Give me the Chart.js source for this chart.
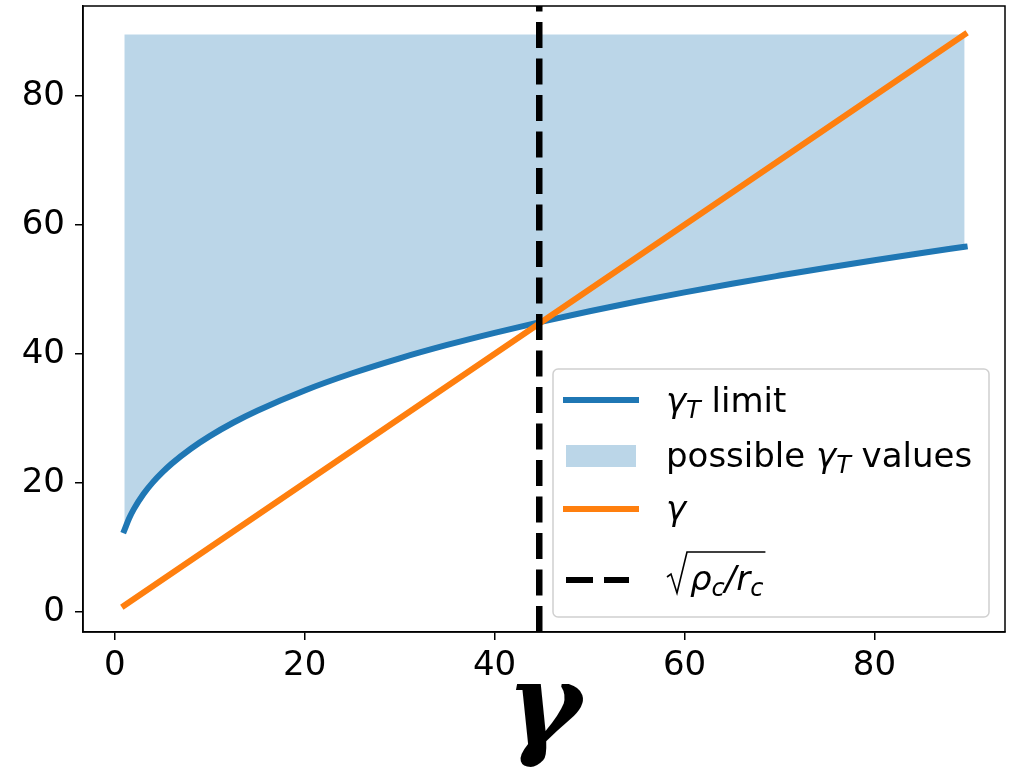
<!DOCTYPE html>
<html>
<head>
<meta charset="utf-8">
<script src="https://cdn.jsdelivr.net/npm/chart.js@4/dist/chart.umd.min.js"></script>
<style>
  body { margin: 0; background: #fff; }
  #wrap { width: 1010px; height: 768px; }
</style>
</head>
<body>
<div id="wrap"><canvas id="c" width="1010" height="768"></canvas></div>
<script>
// valores
const gammaX = [1, 1.5, 2, 3, 4, 5, 6, 8, 10, 12.5, 15, 20, 25, 30, 35, 40, 45, 50, 55, 60, 65, 70, 75, 80, 85, 89.5];
const gammaTLimit = [12.65, 14.48, 15.94, 18.24, 20.08, 21.63, 22.99, 25.3, 27.25, 29.36, 31.19, 34.33, 36.99, 39.31, 41.38, 43.26, 45.0, 46.6, 48.11, 49.52, 50.87, 52.13, 53.35, 54.51, 55.63, 56.59];
const gammaLineX = [1, 89.5];
const gammaLineY = [1, 89.5];
const fillTop = 89.5;            // borde superior de la zona sombreada
const criticalGamma = 44.7;      // sqrt(rho_c / r_c)
const xTicks = [0, 20, 40, 60, 80];
const yTicks = [0, 20, 40, 60, 80];
const xMin = -3.35, xMax = 93.75;
const yMin = -3.1, yMax = 93.9;

const BLUE = '#1f77b4';
const ORANGE = '#ff7f0e';
const FILL = 'rgba(31,119,180,0.3)';
const FONT = 'DejaVu Sans';
const FS = 34;

// leyenda estilo matplotlib, con texto matemático
function drawRuns(ctx, x, y, runs) {
  for (const r of runs) {
    ctx.font = r.font;
    ctx.fillText(r.t, x, y + (r.dy || 0));
    x += ctx.measureText(r.t).width + (r.after || 0);
  }
  return x;
}

const legendPlugin = {
  id: 'mplLegend',
  afterDraw(chart) {
    const ctx = chart.ctx;
    const a = chart.chartArea;
    const w = 436, h = 248;
    const left = a.right - 16 - w, top = a.bottom - 15 - h;
    ctx.save();
    ctx.beginPath();
    ctx.roundRect(left, top, w, h, 5);
    ctx.fillStyle = 'rgba(255,255,255,0.8)';
    ctx.fill();
    ctx.strokeStyle = '#d0d0d0';
    ctx.lineWidth = 1.5;
    ctx.stroke();

    const sx0 = left + 10, sx1 = left + 86;
    const tx = left + 113;
    const rows = [top + 31, top + 87, top + 140, top + 211];
    const reg = FS + 'px "' + FONT + '"';
    const it = 'italic ' + FS + 'px "' + FONT + '"';
    const sub = 'italic ' + Math.round(FS * 0.7) + 'px "' + FONT + '"';

    // muestras
    ctx.lineWidth = 6;
    ctx.lineCap = 'butt';
    ctx.strokeStyle = BLUE;
    ctx.beginPath(); ctx.moveTo(sx0, rows[0]); ctx.lineTo(sx1, rows[0]); ctx.stroke();
    ctx.fillStyle = FILL;
    ctx.fillRect(sx0 + 3, rows[1] - 11, sx1 - sx0 - 6, 22);
    ctx.strokeStyle = ORANGE;
    ctx.beginPath(); ctx.moveTo(sx0, rows[2]); ctx.lineTo(sx1, rows[2]); ctx.stroke();
    ctx.strokeStyle = '#000';
    ctx.setLineDash([27, 11]);
    ctx.beginPath(); ctx.moveTo(sx0 + 3, rows[3]); ctx.lineTo(sx1 - 10, rows[3]); ctx.stroke();
    ctx.setLineDash([]);

    // textos
    ctx.fillStyle = '#000';
    ctx.textBaseline = 'alphabetic';
    ctx.textAlign = 'left';
    drawRuns(ctx, tx, rows[0] + 12, [
      {t: 'γ', font: it}, {t: 'T', font: sub, dy: 6}, {t: ' limit', font: reg}
    ]);
    drawRuns(ctx, tx, rows[1] + 11, [
      {t: 'possible ', font: reg}, {t: 'γ', font: it}, {t: 'T', font: sub, dy: 6}, {t: ' values', font: reg}
    ]);
    drawRuns(ctx, tx, rows[2] + 11, [{t: 'γ', font: it}]);

    const b = rows[3] + 10;
    const end = drawRuns(ctx, tx + 24, b, [
      {t: 'ρ', font: it}, {t: 'c', font: sub, dy: 6}, {t: '/', font: it}, {t: 'r', font: it}, {t: 'c', font: sub, dy: 6}
    ]);
    ctx.lineWidth = 1.6;
    ctx.lineJoin = 'miter';
    ctx.beginPath();
    ctx.moveTo(tx + 1, b - 13);
    ctx.lineTo(tx + 5, b - 16);
    ctx.lineTo(tx + 11, b + 3);
    ctx.lineTo(tx + 21, b - 38);
    ctx.lineTo(end + 2, b - 38);
    ctx.stroke();
    ctx.restore();
  }
};

// marco completo de los ejes
const framePlugin = {
  id: 'frame',
  afterDatasetsDraw(chart) {
    const a = chart.chartArea;
    const ctx = chart.ctx;
    ctx.save();
    ctx.strokeStyle = '#000';
    ctx.lineWidth = 1.5;
    ctx.strokeRect(a.left, a.top, a.right - a.left, a.bottom - a.top);
    ctx.restore();
  }
};

new Chart(document.getElementById('c'), {
  type: 'line',
  data: {
    datasets: [
      {
        label: 'sqrt(rho_c/r_c)',
        data: [{x: criticalGamma, y: yMin}, {x: criticalGamma, y: yMax}],
        borderColor: '#000',
        borderWidth: 6.5,
        borderDash: [26, 10.5],
        borderCapStyle: 'butt',
        pointRadius: 0,
        fill: false,
        order: 0
      },
      {
        label: 'γ',
        data: gammaLineX.map((x, i) => ({x: x, y: gammaLineY[i]})),
        borderColor: ORANGE,
        borderWidth: 6,
        borderCapStyle: 'square',
        pointRadius: 0,
        fill: false,
        order: 1
      },
      {
        label: 'γT limit',
        data: gammaX.map((x, i) => ({x: x, y: gammaTLimit[i]})),
        borderColor: BLUE,
        borderWidth: 6,
        borderCapStyle: 'square',
        cubicInterpolationMode: 'monotone',
        pointRadius: 0,
        backgroundColor: FILL,
        fill: {target: {value: fillTop}},
        order: 2
      }
    ]
  },
  options: {
    responsive: false,
    animation: false,
    layout: { padding: { left: 0, top: 6, right: 5, bottom: 0 } },
    plugins: {
      legend: { display: false },
      tooltip: { enabled: false }
    },
    scales: {
      x: {
        type: 'linear',
        min: xMin,
        max: xMax,
        afterBuildTicks: s => { s.ticks = xTicks.map(v => ({value: v})); },
        afterFit: s => { s.height = 136; s.paddingLeft = 0; s.paddingRight = 0; },
        grid: { drawOnChartArea: false, drawTicks: true, tickLength: 8, color: '#000', lineWidth: 1.5 },
        border: { display: true, color: '#000', width: 1.5 },
        ticks: { color: '#000', padding: 6, maxRotation: 0, font: { family: FONT, size: FS } },
        title: {
          display: true,
          text: 'γ',
          color: '#000',
          padding: { top: 0, bottom: -14 },
          font: { family: 'DejaVu Serif', size: 114, style: 'italic', weight: 'bold' }
        }
      },
      y: {
        type: 'linear',
        min: yMin,
        max: yMax,
        afterBuildTicks: s => { s.ticks = yTicks.map(v => ({value: v})); },
        afterFit: s => { s.width = 83; s.paddingTop = 0; s.paddingBottom = 0; },
        grid: { drawOnChartArea: false, drawTicks: true, tickLength: 8, color: '#000', lineWidth: 1.5 },
        border: { display: true, color: '#000', width: 1.5 },
        ticks: { color: '#000', padding: 10, font: { family: FONT, size: FS } }
      }
    }
  },
  plugins: [framePlugin, legendPlugin]
});
</script>
</body>
</html>
